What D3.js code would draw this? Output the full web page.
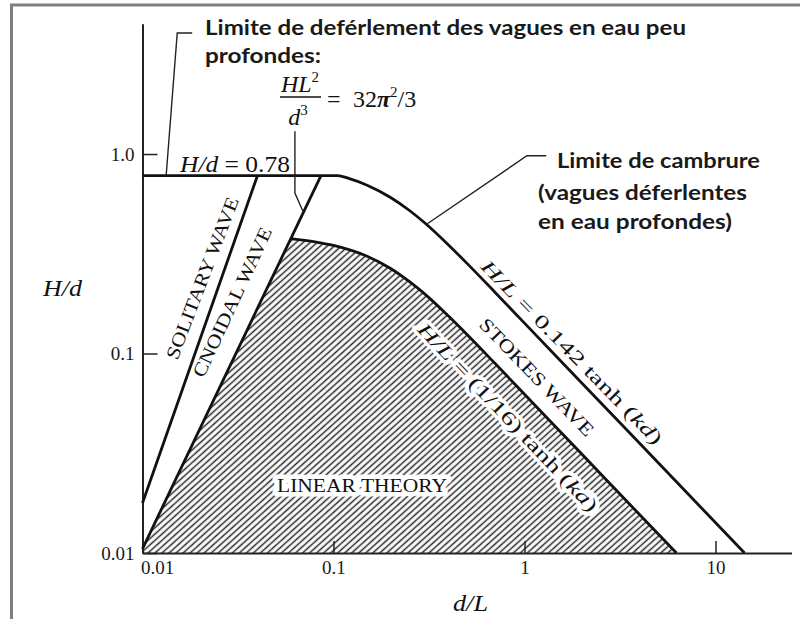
<!DOCTYPE html>
<html>
<head>
<meta charset="utf-8">
<script src="https://cdn.jsdelivr.net/npm/d3@7"></script>
<style>
  html, body { margin: 0; padding: 0; background: #fff; }
  svg { display: block; }
</style>
</head>
<body>
<svg id="chart" width="800" height="619"></svg>
<script>
// Ranges of validity of wave theories, plotted as H/d against d/L (log–log).

const xTicks = [0.01, 0.1, 1, 10];
const xTickLabels = ["0.01", "0.1", "1", "10"];
const yTicks = [0.01, 0.1, 1];
const yTickLabels = ["0.01", "0.1", "1.0"];

// Breaking limit: H/d = 0.78 in shallow water, then steepness limit H/L = 0.142 tanh(kd)
const upperLimit = [
  [0.01, 0.78], [0.105, 0.78], [0.12, 0.755], [0.15, 0.698], [0.2, 0.604],
  [0.25, 0.521], [0.3, 0.452], [0.4, 0.350], [0.5, 0.283], [0.7, 0.203],
  [1, 0.142], [2, 0.071], [5, 0.0284], [14.2, 0.01]
];
// Upper edge of linear theory: H/L = (1/16) tanh(kd)
const linearLimit = [
  [0.0598, 0.377], [0.08, 0.363], [0.1, 0.348], [0.15, 0.307], [0.2, 0.266],
  [0.25, 0.229], [0.3, 0.199], [0.4, 0.154], [0.5, 0.1245], [0.7, 0.0893],
  [1, 0.0625], [2, 0.03125], [4, 0.0156], [6.25, 0.01]
];
// Solitary-wave boundary and cnoidal boundary (HL²/d³ = 32π²/3)
const solitaryLine = [[0.01, 0.0178], [0.040, 0.78]];
const cnoidalLine = [[0.01, 0.0105], [0.086, 0.78]];

// Leader lines for the annotations, in (d/L, H/d)
const shallowLeader = [[0.0133, 0.78], [0.0152, 4.04], [0.0182, 4.04]];
const formulaLeader = [[0.0628, 1.30], [0.0628, 0.637], [0.0690, 0.52]];
const steepLeader = [[0.31, 0.447], [1.03, 0.98], [1.30, 0.98]];

const svg = d3.select("#chart");

// Frame
svg.append("path")
  .attr("d", "M11.5,619V5H800")
  .attr("fill", "none")
  .attr("stroke", "#808080")
  .attr("stroke-width", 3);

const x = d3.scaleLog().domain([0.01, 25]).range([142.5, 791.5]);
const y = d3.scaleLog().domain([0.01, 4.5]).range([553, 23.7]);

const defs = svg.append("defs");
const pat = defs.append("pattern")
  .attr("id", "hatch")
  .attr("patternUnits", "userSpaceOnUse")
  .attr("width", 10)
  .attr("height", 4.7)
  .attr("patternTransform", "rotate(-42)");
pat.append("line")
  .attr("x1", 0).attr("x2", 10)
  .attr("y1", 2.35).attr("y2", 2.35)
  .attr("stroke", "#262626")
  .attr("stroke-width", 1.5);

const line = d3.line().x(d => x(d[0])).y(d => y(d[1]));
const smooth = d3.line().x(d => x(d[0])).y(d => y(d[1])).curve(d3.curveMonotoneX);

// Layers
const gFill = svg.append("g");
const gUnder = svg.append("g");
const gAxes = svg.append("g");
const gCurves = svg.append("g");
const gText = svg.append("g");

// Hatched area: linear theory (cnoidal edge, (1/16) tanh(kd) edge, d/L axis)
gFill.append("path")
  .attr("d", smooth(linearLimit).replace(/^M/, "M" + x(cnoidalLine[0][0]) + "," + y(cnoidalLine[0][1]) + "L") +
        "L" + x(0.01) + "," + y(0.01) + "Z")
  .attr("fill", "url(#hatch)")
  .attr("stroke", "none");

// Axes
const xAxis = d3.axisBottom(x)
  .tickValues(xTicks)
  .tickFormat((d, i) => xTickLabels[i])
  .tickSizeInner(-12)
  .tickSizeOuter(0)
  .tickPadding(8);
const yAxis = d3.axisLeft(y)
  .tickValues(yTicks)
  .tickFormat((d, i) => yTickLabels[i])
  .tickSizeInner(-15)
  .tickSizeOuter(0)
  .tickPadding(8);

const gx = gAxes.append("g").attr("transform", `translate(0,${y(0.01)})`).call(xAxis);
const gy = gAxes.append("g").attr("transform", `translate(${x(0.01)},0)`).call(yAxis);

[gx, gy].forEach(g => {
  g.select(".domain").attr("stroke", "#222").attr("stroke-width", 2);
  g.selectAll(".tick line").attr("stroke", "#222").attr("stroke-width", 1.5);
  g.selectAll(".tick text")
    .attr("font-family", "'Liberation Serif', 'DejaVu Serif', serif")
    .attr("font-size", 19)
    .attr("fill", "#1a1a1a");
});
gx.selectAll(".tick text").filter((d, i) => i === 0)
  .attr("text-anchor", "start").attr("x", -2);

// Boundary curves
const curveStyle = sel => sel.attr("fill", "none").attr("stroke", "#111")
  .attr("stroke-width", 2.8).attr("stroke-linejoin", "round");

gCurves.append("path").attr("d", smooth(linearLimit)).call(curveStyle);
gCurves.append("path").attr("d", smooth(upperLimit)).call(curveStyle);
gCurves.append("path").attr("d", line(solitaryLine)).call(curveStyle);
gCurves.append("path").attr("d", line(cnoidalLine)).call(curveStyle);

// Leaders
const leaderStyle = sel => sel.attr("fill", "none").attr("stroke", "#222")
  .attr("stroke-width", 1.4);
gCurves.append("path").attr("d", line(shallowLeader)).call(leaderStyle);
gCurves.append("path").attr("d", line(formulaLeader)).call(leaderStyle);
gCurves.append("path").attr("d", line(steepLeader)).call(leaderStyle);

// French annotations
const sans = "Lato, 'Open Sans', sans-serif";
const serif = "'Liberation Serif', 'DejaVu Serif', serif";
const note = (tx, ty, len, s) => gText.append("text")
  .attr("x", tx).attr("y", ty)
  .attr("font-family", sans).attr("font-weight", "bold")
  .attr("font-size", 21).attr("fill", "#1a1a1a")
  .attr("textLength", len).attr("lengthAdjust", "spacingAndGlyphs")
  .text(s);
note(205, 35, 481, "Limite de deférlement des vagues en eau peu");
note(205, 63, 116, "profondes:");
note(557, 168, 203, "Limite de cambrure");
note(538, 200, 209, "(vagues déferlentes");
note(538, 229, 194, "en eau profondes)");

// Formula HL²/d³ = 32π²/3
const f1 = gText.append("text").attr("x", 300).attr("y", 92).attr("text-anchor", "middle")
  .attr("font-family", serif).attr("font-size", 24).attr("fill", "#111");
f1.append("tspan").attr("font-style", "italic").text("HL");
f1.append("tspan").attr("font-size", 15).attr("dy", -10).text("2");
gText.append("line").attr("x1", 280).attr("x2", 321).attr("y1", 97).attr("y2", 97)
  .attr("stroke", "#111").attr("stroke-width", 1.6);
const f2 = gText.append("text").attr("x", 298).attr("y", 125).attr("text-anchor", "middle")
  .attr("font-family", serif).attr("font-size", 24).attr("fill", "#111");
f2.append("tspan").attr("font-style", "italic").text("d");
f2.append("tspan").attr("font-size", 15).attr("dy", -10).text("3");
gText.append("text").attr("x", 327).attr("y", 107)
  .attr("font-family", serif).attr("font-size", 24).attr("fill", "#111")
  .text("=");
const f3 = gText.append("text").attr("x", 353).attr("y", 107)
  .attr("font-family", serif).attr("font-size", 24).attr("fill", "#111");
f3.append("tspan").text("32");
f3.append("tspan").attr("font-style", "italic").attr("font-weight", "bold").text("π");
f3.append("tspan").attr("font-size", 15).attr("dy", -10).text("2");
f3.append("tspan").attr("dy", 10).text("/3");

// H/d = 0.78
const hd = gText.append("text").attr("x", 180).attr("y", 172)
  .attr("font-family", serif).attr("font-size", 23).attr("fill", "#111")
  .attr("textLength", 110).attr("lengthAdjust", "spacingAndGlyphs");
hd.append("tspan").attr("font-style", "italic").text("H/d");
hd.append("tspan").text(" = 0.78");

// Axis titles
gText.append("text").attr("x", 43).attr("y", 296)
  .attr("font-family", serif).attr("font-size", 23).attr("font-style", "italic")
  .attr("fill", "#111").attr("textLength", 39).attr("lengthAdjust", "spacingAndGlyphs")
  .text("H/d");
gText.append("text").attr("x", 453).attr("y", 611)
  .attr("font-family", serif).attr("font-size", 23).attr("font-style", "italic")
  .attr("fill", "#111").attr("textLength", 35).attr("lengthAdjust", "spacingAndGlyphs")
  .text("d/L");

// Region labels along the boundaries
const rotLabel = (layer, cx, cy, ang, len, halo) => {
  const t = layer.append("text")
    .attr("transform", `translate(${cx},${cy}) rotate(${ang})`)
    .attr("text-anchor", "middle").attr("dy", "0.35em")
    .attr("font-family", serif).attr("font-size", 19).attr("fill", "#111")
    .attr("textLength", len).attr("lengthAdjust", "spacingAndGlyphs");
  if (halo) {
    t.attr("stroke", "#fff").attr("stroke-width", 7)
      .attr("paint-order", "stroke").attr("stroke-linejoin", "round");
  }
  return t;
};
rotLabel(gText, 202, 278, -69, 172).text("SOLITARY WAVE");
rotLabel(gText, 232, 302, -65, 163).text("CNOIDAL WAVE");
rotLabel(gText, 537, 377, 46, 156).text("STOKES WAVE");

const s1 = rotLabel(gText, 572, 352, 45.5, 250);
s1.append("tspan").attr("font-style", "italic").text("H/L");
s1.append("tspan").text(" = 0.142 tanh (");
s1.append("tspan").attr("font-style", "italic").text("kd");
s1.append("tspan").text(")");

// Sits inside the hatching, under the boundary curve
const s2 = rotLabel(gUnder, 508, 417, 46.5, 252, true);
s2.append("tspan").attr("font-style", "italic").text("H/L");
s2.append("tspan").text(" = (1/16) tanh (");
s2.append("tspan").attr("font-style", "italic").text("kd");
s2.append("tspan").text(")");

gUnder.append("text").attr("x", 362).attr("y", 492).attr("text-anchor", "middle")
  .attr("font-family", serif).attr("font-size", 19).attr("fill", "#111")
  .attr("stroke", "#fff").attr("stroke-width", 9).attr("paint-order", "stroke")
  .attr("stroke-linejoin", "round")
  .attr("textLength", 170).attr("lengthAdjust", "spacingAndGlyphs")
  .text("LINEAR THEORY");
</script>
</body>
</html>
